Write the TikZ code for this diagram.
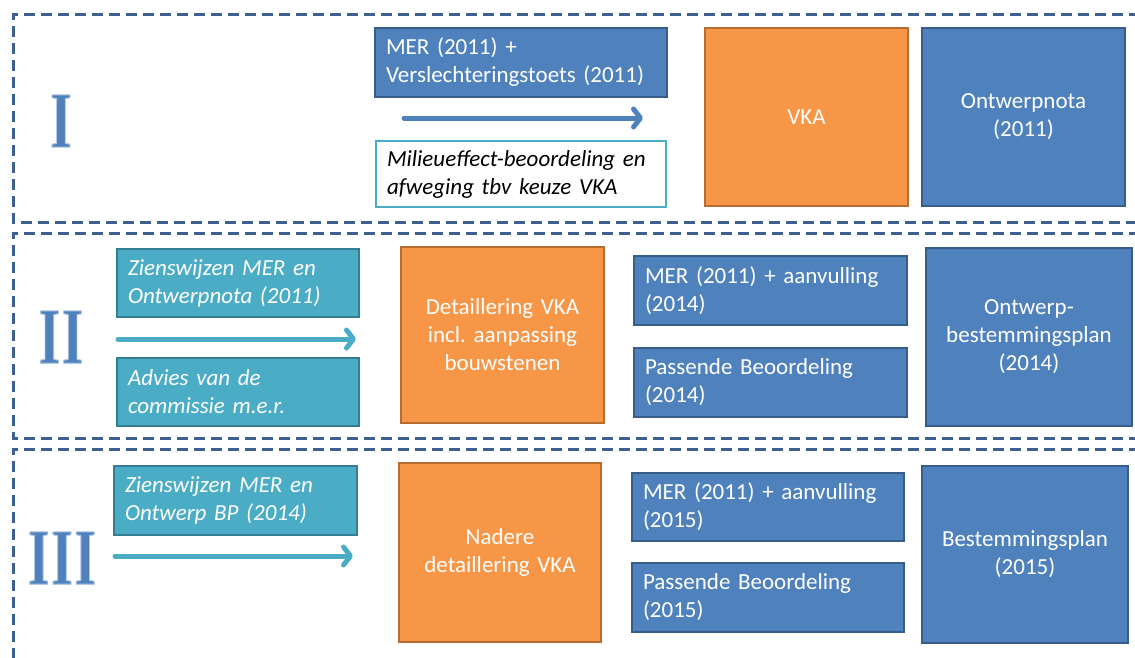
\documentclass[tikz,border=0pt]{standalone}
\usepackage{fontspec}
\setmainfont{Carlito}
\newfontfamily\romanfont{Liberation Serif}
\usetikzlibrary{arrows.meta}

\definecolor{frameblue}{RGB}{62,96,145}
\definecolor{boxblue}{RGB}{79,129,189}
\definecolor{boxblueline}{RGB}{56,93,138}
\definecolor{boxorange}{RGB}{247,150,70}
\definecolor{boxorangeline}{RGB}{182,109,49}
\definecolor{boxteal}{RGB}{75,172,198}
\definecolor{boxtealline}{RGB}{53,125,145}

% roman numeral: blue glyphs with a pale blue stroked edge (fill + stroke render mode)
\newcommand{\phasenum}[1]{%
  \special{pdf:literal direct 2 Tr 0.69 0.78 0.89 RG 1.1 w 1 j}%
  \scalebox{0.7}[1]{#1}%
  \special{pdf:literal direct 0 Tr}}

\tikzset{
  phase/.style={draw=frameblue, line width=3pt, dash pattern=on 11pt off 6pt},
  basebox/.style={rectangle, line width=1.8pt, inner xsep=11pt, inner ysep=0pt,
    font=\fontsize{23}{28}\selectfont},
  bluebox/.style={basebox, fill=boxblue, draw=boxblueline, text=white},
  orangebox/.style={basebox, fill=boxorange, draw=boxorangeline, text=white},
  tealbox/.style={basebox, fill=boxteal, draw=boxtealline, text=white,
    font=\fontsize{23}{28}\selectfont\itshape},
  notebox/.style={basebox, fill=white, draw=boxteal, text=black,
    font=\fontsize{23}{28}\selectfont\itshape},
  flow/.style={line width=5pt, line cap=round,
    -{Straight Barb[length=7pt, width=18pt, line cap=round, line join=round]}},
  numeral/.style={text=boxblue, inner sep=0pt,
    font=\romanfont\bfseries\fontsize{80}{80}\selectfont},
}

\begin{document}
\frenchspacing
\begin{tikzpicture}[x=1pt, y=-1pt]
\useasboundingbox (0,0) rectangle (1135,657);

% phase frames (open to the right)
\draw[phase] (1140,14) -- (13,14) -- (13,222) -- (1140,222);
\draw[phase] (1140,233) -- (13,233) -- (13,438) -- (1140,438);
\draw[phase] (1140,449) -- (13,449) -- (13,662);

% phase numerals
\node[numeral] (num1) at (61,121) {\phasenum{I}};
\node[numeral] (num2) at (61,337) {\phasenum{I\kern2pt I}};
\node[numeral] (num3) at (62,558) {\phasenum{I\kern2pt I\kern2pt I}};

% ---- phase I ----
\node[bluebox, minimum width=292pt, minimum height=69pt, text width=270pt, align=left]
  (mer1) at (521,62.5) {MER (2011) +\\Verslechteringstoets (2011)};
\node[notebox, minimum width=290pt, minimum height=66pt, text width=268pt, align=left]
  (mil1) at (521,174) {Milieueffect-beoordeling en\\afweging tbv keuze VKA};
\node[orangebox, minimum width=203pt, minimum height=178pt, text width=181pt, align=center]
  (vka1) at (806.5,117) {VKA};
\node[bluebox, minimum width=203pt, minimum height=178pt, text width=181pt, align=center]
  (ont1) at (1023.5,117) {Ontwerpnota\\(2011)};
\coordinate (a1s) at (404,118);
\coordinate (a1e) at (643,118);
\draw[flow, draw=boxblue] (a1s) -- (a1e);

% ---- phase II ----
\node[tealbox, minimum width=242pt, minimum height=68pt, text width=220pt, align=left]
  (zw2) at (238,283) {Zienswijzen MER en\\Ontwerpnota (2011)};
\node[tealbox, minimum width=242pt, minimum height=68pt, text width=220pt, align=left]
  (adv2) at (238,392) {Advies van de\\commissie m.e.r.};
\coordinate (a2s) at (118,339);
\coordinate (a2e) at (356,339);
\draw[flow, draw=boxteal] (a2s) -- (a2e);
\node[orangebox, minimum width=203pt, minimum height=176pt, text width=181pt, align=center]
  (det2) at (502.5,335) {Detaillering VKA\\incl. aanpassing\\bouwstenen};
\node[bluebox, minimum width=273pt, minimum height=69pt, text width=251pt, align=left]
  (mer2) at (770.5,290.5) {MER (2011) + aanvulling\\(2014)};
\node[bluebox, minimum width=273pt, minimum height=69pt, text width=251pt, align=left]
  (pb2) at (770.5,382.5) {Passende Beoordeling\\(2014)};
\node[bluebox, minimum width=206pt, minimum height=178pt, text width=184pt, align=center]
  (obp2) at (1029,337) {Ontwerp-\\bestemmingsplan\\(2014)};

% ---- phase III ----
\node[tealbox, minimum width=243pt, minimum height=69pt, text width=221pt, align=left]
  (zw3) at (235.5,500.5) {Zienswijzen MER en\\Ontwerp BP (2014)};
\coordinate (a3s) at (115,556);
\coordinate (a3e) at (353,556);
\draw[flow, draw=boxteal] (a3s) -- (a3e);
\node[orangebox, minimum width=202pt, minimum height=179pt, text width=180pt, align=center]
  (nad3) at (500,552.5) {Nadere\\detaillering VKA};
\node[bluebox, minimum width=272pt, minimum height=68pt, text width=250pt, align=left]
  (mer3) at (768,507) {MER (2011) + aanvulling\\(2015)};
\node[bluebox, minimum width=272pt, minimum height=69pt, text width=250pt, align=left]
  (pb3) at (768,597.5) {Passende Beoordeling\\(2015)};
\node[bluebox, minimum width=206pt, minimum height=177pt, text width=184pt, align=center]
  (bp3) at (1025,554.5) {Bestemmingsplan\\(2015)};
\end{tikzpicture}
\end{document}
